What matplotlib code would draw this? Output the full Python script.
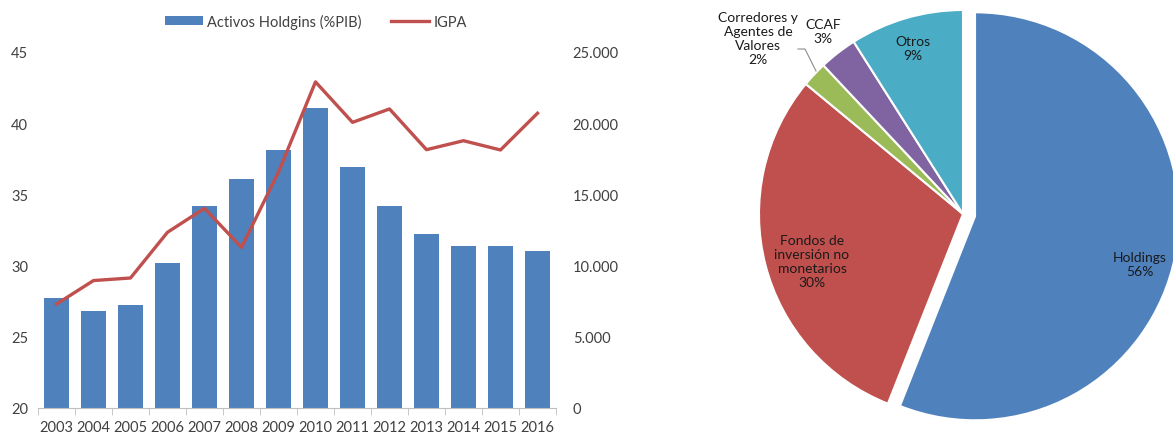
import matplotlib
matplotlib.use("Agg")
import matplotlib.pyplot as plt
from matplotlib.ticker import FuncFormatter, FixedLocator

plt.rcParams['font.family'] = ['Lato', 'DejaVu Sans']

# Data
years = ['2003', '2004', '2005', '2006', '2007', '2008', '2009',
         '2010', '2011', '2012', '2013', '2014', '2015', '2016']
activos_pib = [27.7, 26.8, 27.2, 30.2, 34.2, 36.1, 38.1,
               41.1, 36.9, 34.2, 32.2, 31.4, 31.4, 31.0]
igpa = [7300, 8950, 9130, 12340, 14020, 11280, 16570,
        22900, 20060, 21000, 18140, 18770, 18120, 20700]

pie_labels = ['Holdings', 'Fondos de\ninversión no\nmonetarios',
              'Corredores y\nAgentes de\nValores', 'CCAF', 'Otros']
pie_values = [56, 30, 2, 3, 9]
pie_colors = ['#4F81BD', '#C0504D', '#9BBB59', '#8064A2', '#4BACC6']

text_color = '#404040'

fig = plt.figure(figsize=(11.73, 4.35), dpi=100)

# ---- left chart: bars + line ----
ax = fig.add_axes([38 / 1173, 1 - 409 / 435, (556 - 38) / 1173, (409 - 53) / 435])
x = list(range(len(years)))
bars = ax.bar(x, activos_pib, width=0.65, color='#4F81BD',
              label='Activos Holdgins (%PIB)', zorder=2)
ax.set_ylim(20, 45)
ax.set_xlim(-0.5, len(years) - 0.5)
ax.set_yticks([20, 25, 30, 35, 40, 45])
ax.set_xticks(x)
ax.set_xticklabels(years)
ax.xaxis.set_minor_locator(FixedLocator([i - 0.5 for i in range(len(years) + 1)]))
ax.tick_params(axis='x', which='major', length=0, pad=9, labelsize=10.5, colors=text_color)
ax.tick_params(axis='x', which='minor', length=5, color='#BFBFBF', direction='out')
ax.tick_params(axis='y', length=0, pad=7, labelsize=10.5, colors=text_color)
for s in ['top', 'left', 'right']:
    ax.spines[s].set_visible(False)
ax.spines['bottom'].set_color('#BFBFBF')

ax2 = ax.twinx()
line, = ax2.plot(x, igpa, color='#C0504D', lw=2.4, label='IGPA', zorder=3)
ax2.set_ylim(0, 25000)
ax2.set_yticks([0, 5000, 10000, 15000, 20000, 25000])
ax2.yaxis.set_major_formatter(FuncFormatter(lambda v, p: f'{int(v):,}'.replace(',', '.')))
ax2.tick_params(axis='y', length=0, pad=12, labelsize=10.5, colors=text_color)
for s in ['top', 'left', 'right', 'bottom']:
    ax2.spines[s].set_visible(False)

fig.legend(handles=[bars, line], loc='center', bbox_to_anchor=(316 / 1173, 1 - 22 / 435),
           ncol=2, frameon=False, fontsize=10.5, labelcolor=text_color,
           handlelength=2.6, handleheight=0.6, columnspacing=2.0, handletextpad=0.3)

# ---- right chart: pie ----
R = 204.0
L = 1.2
cx, cy = 963, 215
axp = fig.add_axes([(cx - L * R) / 1173, (435 - cy - L * R) / 435,
                    2 * L * R / 1173, 2 * L * R / 435])
wedges, _ = axp.pie(pie_values, colors=pie_colors, startangle=90, counterclock=False,
                    explode=[0.06, 0, 0, 0, 0],
                    wedgeprops=dict(edgecolor='white', linewidth=1.5))
axp.set_xlim(-L, L)
axp.set_ylim(-L, L)
axp.set_aspect('auto')


def px(xp, yp):
    return (xp - cx) / R, (cy - yp) / R


label_px = [(1140, 265), (812, 262), (758, 39), (823, 32), (913, 49)]
for lab, val, (lx, ly) in zip(pie_labels, pie_values, label_px):
    tx, ty = px(lx, ly)
    axp.text(tx, ty, f'{lab}\n{val}%', ha='center', va='center',
             fontsize=10, color='#1a1a1a', linespacing=1.2)

# leader line for the small slice
p0 = px(798, 50)
p1 = px(805, 50)
p2 = px(816, 72)
axp.plot([p0[0], p1[0], p2[0]], [p0[1], p1[1], p2[1]], color='#8C8C8C', lw=0.8)

fig.savefig('out.png', dpi=100, facecolor='white')
